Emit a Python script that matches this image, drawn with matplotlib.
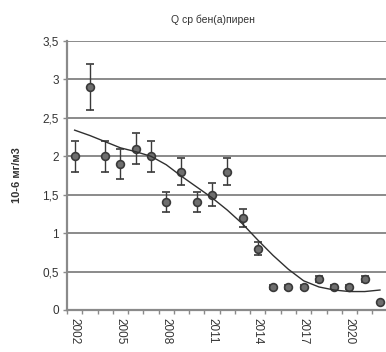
import numpy as np
import matplotlib as mpl
import matplotlib.pyplot as plt

mpl.rcParams.update({
    'font.family': ['Liberation Sans', 'DejaVu Sans'],
    'font.size': 8,
})

years = [2002, 2003, 2004, 2005, 2006, 2007, 2008, 2009, 2010, 2011, 2012,
         2013, 2014, 2015, 2016, 2017, 2018, 2019, 2020, 2021, 2022]
q_mean = [2.0, 2.9, 2.0, 1.9, 2.1, 2.0, 1.4, 1.8, 1.4, 1.5, 1.8,
          1.2, 0.8, 0.3, 0.3, 0.3, 0.4, 0.3, 0.3, 0.4, 0.1]
q_err = [0.2, 0.3, 0.2, 0.2, 0.2, 0.2, 0.13, 0.18, 0.13, 0.15, 0.18,
         0.12, 0.08, 0.03, 0.03, 0.03, 0.04, 0.03, 0.03, 0.04, 0.01]
# тренд (полином)
trend = [2.34, 2.27, 2.19, 2.11, 2.06, 2.0, 1.89, 1.74, 1.60, 1.46, 1.30,
         1.12, 0.91, 0.71, 0.53, 0.38, 0.30, 0.26, 0.24, 0.24, 0.26]
ytick_vals = [0, 0.5, 1, 1.5, 2, 2.5, 3, 3.5]
ytick_lbls = ['0', '0,5', '1', '1,5', '2', '2,5', '3', '3,5']
xlabel_years = [2002, 2005, 2008, 2011, 2014, 2017, 2020]

W, H = 386, 352
fig = plt.figure(figsize=(W / 100, H / 100), dpi=100)
x0, x1 = 67, 387.6
y_top, y_bot = 41, 310
ax = fig.add_axes([x0 / W, (H - y_bot) / H, (x1 - x0) / W, (y_bot - y_top) / H])

GRID = '#8a8a8a'
for v in ytick_vals[1:]:
    ax.axhline(v, color=GRID, lw=1.4, zorder=1)

ax.plot(years, trend, color='#303030', lw=1.0, zorder=4)
ax.errorbar(years, q_mean, yerr=q_err, fmt='o', ms=5.6, mfc='#6e6e6e', mec='#3a3a3a',
            mew=1.2, ecolor='#3a3a3a', elinewidth=1.0, capsize=3.2, capthick=1.0, zorder=3)

ax.set_xlim(2001.5, 2022.5)
ax.set_ylim(0, 3.5)
for s in ['top', 'right']:
    ax.spines[s].set_visible(False)
ax.spines['left'].set_color(GRID)
ax.spines['left'].set_linewidth(1.6)
ax.spines['bottom'].set_color(GRID)
ax.spines['bottom'].set_linewidth(1.6)

ax.set_yticks(ytick_vals)
ax.set_yticklabels(ytick_lbls, fontsize=8.5, color='#333333')
ax.tick_params(axis='y', length=3, width=1, color=GRID, pad=3)

ax.set_xticks(xlabel_years)
ax.set_xticklabels([str(y) for y in xlabel_years], rotation=270, fontsize=8.5,
                   color='#333333', va='top', ha='center')
ax.set_xticks(np.arange(2001.5, 2023, 1), minor=True)
ax.tick_params(axis='x', which='major', length=0, pad=6)
ax.tick_params(axis='x', which='minor', length=3, width=1, color=GRID)

fig.text(213 / W, 1 - 20 / H, 'Q ср бен(а)пирен', ha='center', va='center',
         fontsize=7.5, color='#333333')
fig.text(17 / W, 1 - 175 / H, '10-6 мг/м3', rotation=90, ha='center', va='center',
         fontsize=8, fontweight='bold', color='#333333')

fig.savefig('out.png', dpi=100)
